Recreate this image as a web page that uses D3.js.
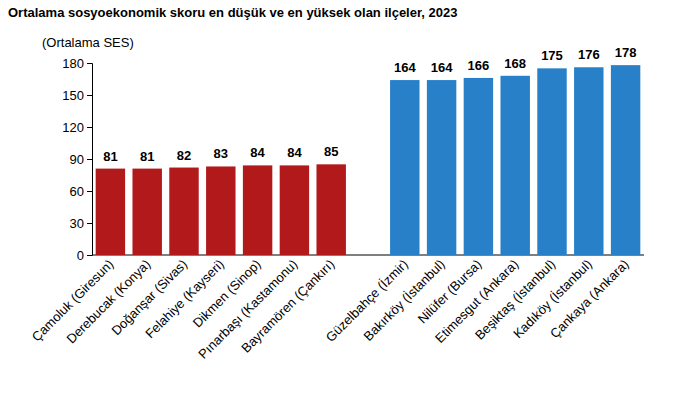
<!DOCTYPE html>
<html><head><meta charset="utf-8">
<script src="https://cdn.jsdelivr.net/npm/d3@7"></script>
<style>body{margin:0;background:#fff;font-family:Arial,"Liberation Sans",sans-serif}</style>
</head><body>
<svg id="chart" width="698" height="400"></svg>
<script>
const lowNames = ["Çamoluk (Giresun)", "Derebucak (Konya)", "Doğanşar (Sivas)", "Felahiye (Kayseri)", "Dikmen (Sinop)", "Pınarbaşı (Kastamonu)", "Bayramören (Çankırı)"];
const lowValues = [81, 81, 82, 83, 84, 84, 85];
const highNames = ["Güzelbahçe (İzmir)", "Bakırköy (İstanbul)", "Nilüfer (Bursa)", "Etimesgut (Ankara)", "Beşiktaş (İstanbul)", "Kadıköy (İstanbul)", "Çankaya (Ankara)"];
const highValues = [164, 164, 166, 168, 175, 176, 178];
const yTicks = [0, 30, 60, 90, 120, 150, 180];

const data = lowNames.map((n, i) => ({ Name: n, v: lowValues[i], c: "#B2191B" }))
  .concat([{ Name: "_gap", v: null }])
  .concat(highNames.map((n, i) => ({ Name: n, v: highValues[i], c: "#2880C8" })));

const svg = d3.select("#chart");
const margin = { top: 63, left: 92, right: 54, bottom: 145 };
const chartWidth = 698 - margin.left - margin.right;
const chartHeight = 400 - margin.top - margin.bottom;
const g = svg.append("g").attr("transform", `translate(${margin.left},${margin.top})`);

const x = d3.scaleBand().domain(data.map(d => d.Name)).range([0, chartWidth]).paddingInner(0.2).paddingOuter(0.1);
const y = d3.scaleLinear().domain([0, 180]).range([chartHeight, 0]);

svg.append("text").attr("x", 8).attr("y", 17).text("Ortalama sosyoekonomik skoru en düşük ve en yüksek olan ilçeler, 2023")
  .attr("font-size", "13px").attr("font-weight", "bold");
svg.append("text").attr("x", 42).attr("y", 47).text("(Ortalama SES)").attr("font-size", "13px");

g.append("g").call(d3.axisLeft(y).tickValues(yTicks).tickSize(5))
  .call(a => a.select(".domain").attr("stroke", "#000"))
  .selectAll("text").attr("font-size", "13px").attr("fill", "#000");

g.append("line").attr("x1", 0).attr("x2", chartWidth).attr("y1", chartHeight).attr("y2", chartHeight).attr("stroke", "#000");

const real = data.filter(d => d.v !== null);
g.selectAll("rect").data(real).enter().append("rect")
  .attr("x", d => x(d.Name)).attr("y", d => y(d.v))
  .attr("width", x.bandwidth()).attr("height", d => chartHeight - y(d.v))
  .attr("fill", d => d.c);

g.selectAll(".val").data(real).enter().append("text")
  .attr("x", d => x(d.Name) + x.bandwidth() / 2).attr("y", d => y(d.v) - 8)
  .attr("text-anchor", "middle").attr("font-size", "13px").attr("font-weight", "bold")
  .text(d => d.v);

g.selectAll(".lab").data(real).enter().append("text")
  .attr("transform", d => `translate(${x(d.Name) + x.bandwidth() / 2 + 4},${chartHeight + 10}) rotate(-45)`)
  .attr("text-anchor", "end").attr("font-size", "13px")
  .text(d => d.Name);
</script>
</body></html>
